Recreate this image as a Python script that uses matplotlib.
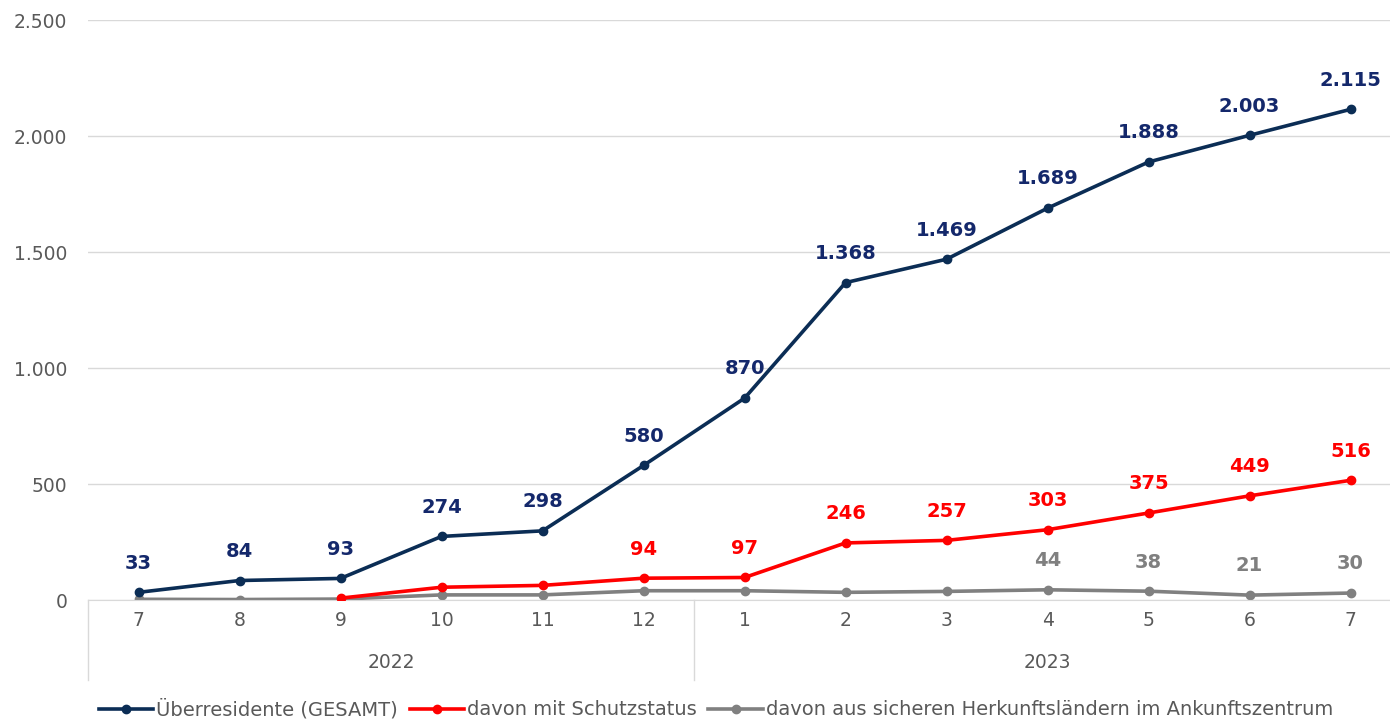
import matplotlib.pyplot as plt
from matplotlib.ticker import FuncFormatter
import numpy as np

months = ['7', '8', '9', '10', '11', '12', '1', '2', '3', '4', '5', '6', '7']
years = ['2022', '2023']
year_counts = [6, 7]

gesamt = [33, 84, 93, 274, 298, 580, 870, 1368, 1469, 1689, 1888, 2003, 2115]
schutz = [np.nan, np.nan, 8, 55, 63, 94, 97, 246, 257, 303, 375, 449, 516]
sicher = [3, 2, 4, 22, 22, 40, 40, 33, 37, 44, 38, 21, 30]

# which points get a data label
show_gesamt = [True] * 13
show_schutz = [False] * 5 + [True] * 8
show_sicher = [False] * 9 + [True] * 4

BLUE = '#0B2D55'
BLUE_TXT = '#14286B'
RED = '#FF0000'
GREY = '#808080'
TXT = '#595959'
GRID = '#D9D9D9'

plt.rcParams['font.family'] = ['DejaVu Sans']

fig = plt.figure(figsize=(13.9, 7.21), dpi=100)
ax = fig.add_axes([88 / 1390, 121 / 721, 1 - 88 / 1390, 580 / 721])

x = np.arange(len(months))
ax.plot(x, gesamt, '-o', color=BLUE, lw=2.6, ms=6, label='Überresidente (GESAMT)', zorder=4)
ax.plot(x, schutz, '-o', color=RED, lw=2.6, ms=6, label='davon mit Schutzstatus', zorder=3)
ax.plot(x, sicher, '-o', color=GREY, lw=2.6, ms=6,
        label='davon aus sicheren Herkunftsländern im Ankunftszentrum', zorder=2)

def fmt(v):
    return f'{int(v):,}'.replace(',', '.')

for vals, flags, col in [(gesamt, show_gesamt, BLUE_TXT), (schutz, show_schutz, RED), (sicher, show_sicher, GREY)]:
    for i, (v, f) in enumerate(zip(vals, flags)):
        if f:
            ax.annotate(fmt(v), (i, v), xytext=(0, 21), textcoords='offset points',
                        ha='center', va='center', fontsize=14, fontweight='bold', color=col)

ax.set_ylim(0, 2500)
ax.set_xlim(-0.5, 12.39)
ax.set_yticks(range(0, 2501, 500))
ax.yaxis.set_major_formatter(FuncFormatter(lambda v, p: fmt(v)))
ax.grid(axis='y', color=GRID, lw=1)
ax.set_axisbelow(True)
for s in ['top', 'right', 'left']:
    ax.spines[s].set_visible(False)
ax.spines['bottom'].set_color(GRID)
ax.tick_params(axis='y', length=0, labelsize=13.5, labelcolor=TXT, pad=15)
ax.set_xticks(x)
ax.set_xticklabels(months)
ax.tick_params(axis='x', length=0, labelsize=13.5, labelcolor=TXT, pad=8)

# multi-level category axis: separators and year labels
trans = ax.get_xaxis_transform()
bounds = np.concatenate([[0], np.cumsum(year_counts)]) - 0.5
for b in bounds:
    ax.plot([b, b], [0, -80 / 580], transform=trans, color=GRID, lw=1, clip_on=False)
for i, yr in enumerate(years):
    ax.text((bounds[i] + bounds[i + 1]) / 2, -63 / 580, yr, transform=trans,
            ha='center', va='center', fontsize=13.5, color=TXT)

fig.legend(loc='lower center', bbox_to_anchor=(0.515, -0.022), ncol=3, frameon=False,
           fontsize=14, labelcolor=TXT, handlelength=2.8, handletextpad=0.15, columnspacing=0.6)

fig.savefig('out.png', dpi=100)
